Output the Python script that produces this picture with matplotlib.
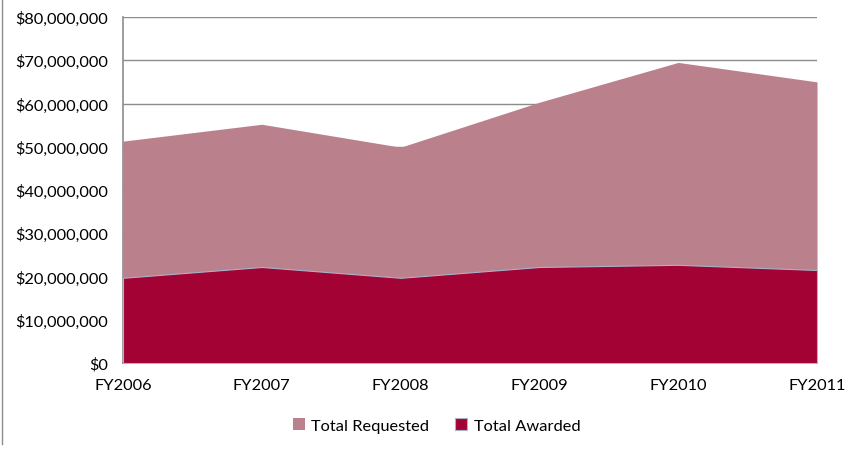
import matplotlib.pyplot as plt
from matplotlib.ticker import FuncFormatter
from matplotlib.lines import Line2D

years = ['FY2006', 'FY2007', 'FY2008', 'FY2009', 'FY2010', 'FY2011']
requested = [51.3e6, 55.2e6, 49.9e6, 60.3e6, 69.5e6, 65.0e6]
awarded = [19.7e6, 22.2e6, 19.7e6, 22.2e6, 22.7e6, 21.5e6]

plt.rcParams['font.family'] = ['Lato', 'DejaVu Sans']

fig = plt.figure(figsize=(8.56, 4.52), dpi=100)
ax = fig.add_axes([123/856, 1 - 364/452, (817-123)/856, (364-18)/452])

x = range(len(years))
ax.fill_between(x, 0, requested, color='#BA818D', linewidth=0, label='Total Requested', zorder=2)
ax.fill_between(x, 0, awarded, color='#A30234', edgecolor='#A7B3C9', linewidth=0.8, label='Total Awarded', zorder=3)

ax.set_xlim(0, len(years) - 1)
ax.set_ylim(0, 80e6)
ax.set_yticks(range(0, 80000001, 10000000))
ax.yaxis.set_major_formatter(FuncFormatter(lambda v, p: '${:,.0f}'.format(v)))
ax.set_xticks(list(x))
ax.set_xticklabels(years)
ax.grid(axis='y', color='#8C8C8C', linewidth=1, zorder=1)
ax.set_axisbelow(True)
for s in ['top', 'right']:
    ax.spines[s].set_visible(False)
for s in ['left', 'bottom']:
    ax.spines[s].set_color('#8C8C8C')
    ax.spines[s].set_linewidth(1.2)
ax.tick_params(axis='y', length=0, labelsize=11.8, pad=11)
ax.tick_params(axis='x', length=0, labelsize=11.8, pad=11)

ax.legend(loc='center', bbox_to_anchor=(0.452, -0.18), ncol=2, frameon=False,
          fontsize=11.8, handlelength=0.7, handleheight=0.7, handletextpad=0.4,
          columnspacing=1.6)

fig.add_artist(Line2D([2/856, 2/856], [1 - 445/452, 1], color='#8C8C8C', linewidth=1))

fig.savefig('out.png', dpi=100)
